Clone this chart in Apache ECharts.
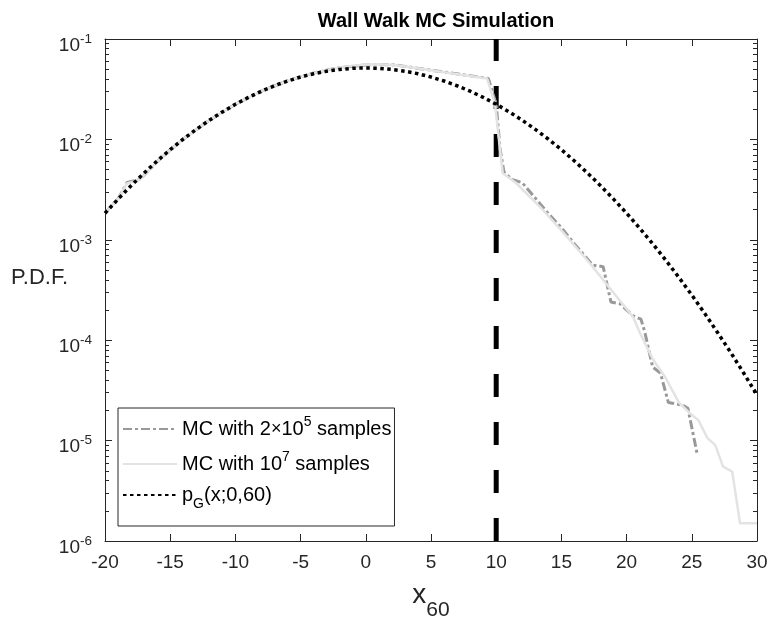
<!DOCTYPE html>
<html><head><meta charset="utf-8">
<script src="https://cdn.jsdelivr.net/npm/echarts@6/dist/echarts.min.js"></script>
<style>html,body{margin:0;padding:0;background:#fff}#c{width:769px;height:622px}</style>
</head><body><div id="c"></div>
<script>
// ---- data ----
const gaussX = [-20,-19,-18,-17,-16,-15,-14,-13,-12,-11,-10,-9,-8,-7,-6,-5,-4,-3,-2,-1,0,1,2,3,4,5,6,7,8,9,10,11,12,13,14,15,16,17,18,19,20,21,22,23,24,25,26,27,28,29,30];
const gaussY = [0.00184,0.00254,0.00346,0.00463,0.00610,0.00790,0.01006,0.01259,0.01551,0.01879,0.02238,0.02622,0.03021,0.03424,0.03815,0.04181,0.04507,0.04778,0.04981,0.05107,0.05150,0.05107,0.04981,0.04778,0.04507,0.04181,0.03815,0.03424,0.03021,0.02622,0.02238,0.01879,0.01551,0.01259,0.01006,0.00790,0.00610,0.00463,0.00346,0.00254,0.00184,0.001306,0.000913,0.000627,0.000424,0.000282,0.000184,0.000118,0.0000749,0.0000466,0.0000285];

const mcSmallX = [-20,-19,-18.3,-17.3,-16,-15,-14,-12,-10,-8,-6,-4,-3,-2,-1,0,1,2.2,9.4,10.0,10.3,10.6,11.2,12.0,13,14,15,16,17.4,18.2,18.8,19.5,20.5,21.1,21.4,21.7,22.0,22.6,23.2,24.3,24.7,25.4];
const mcSmallY = [0.00186,0.00256,0.00372,0.00400,0.00600,0.00785,0.01005,0.01550,0.02240,0.03030,0.03830,0.04580,0.04900,0.05200,0.05350,0.05520,0.05580,0.05520,0.04050,0.02240,0.00800,0.00470,0.00400,0.00370,0.00260,0.00182,0.00132,0.00091,0.00056,0.00054,0.00024,0.00023,0.000175,0.000162,0.000120,0.000080,0.000054,0.000047,0.000024,0.0000225,0.000021,0.0000075];

const mcLargeX = [-20,-19,-18.3,-17.3,-16,-15,-14,-12,-10,-8,-6,-4,-3,-2,-1,0,1,2.2,9.3,9.9,10.5,11.5,13.4,15,17.2,18.4,20.5,21.0,22.0,23.0,24.0,24.9,25.5,26.2,26.8,27.4,28.1,28.7,30];
const mcLargeY = [0.00186,0.00256,0.00365,0.00400,0.00600,0.00785,0.01005,0.01550,0.02240,0.03030,0.03830,0.04580,0.04900,0.05200,0.05400,0.05560,0.05600,0.05520,0.04050,0.02280,0.00460,0.00370,0.00210,0.00124,0.00058,0.00037,0.00017,0.00012,0.000065,0.000042,0.000024,0.0000185,0.000016,0.0000106,0.0000090,0.0000055,0.0000049,0.0000015,0.0000015];

const wallX = 10;
const yMin = 1e-6, yMax = 1e-1;
const decades = [-6,-5,-4,-3,-2,-1];
const minorMult = [2,3,4,5,6,7,8,9];

const seriesNames = ['mcSmall','mcLarge','pG'];
const legendLabels = {
  mcSmall: '{t|MC with 2}{m|×}{t|10}{sup|5}{t| samples}',
  mcLarge: '{t|MC with 10}{sup|7}{t| samples}',
  pG: '{t|p}{sub|G}{t|(x;0,60)}'
};
// ----------------------------------------------

const zip = (xs, ys) => xs.map((x, i) => [x, ys[i]]);
const minorLog = [];
decades.slice(0, -1).forEach(d => minorMult.forEach(m => minorLog.push(Math.log10(m) + d)));

const FONT = '"Liberation Sans", Arial, Helvetica, sans-serif';
const AX = '#262626';

const chart = echarts.init(document.getElementById('c'), null, {renderer: 'canvas'});
const tickCommon = {show: true, inside: true, lineStyle: {color: AX, width: 1}};
const lineCommon = {show: true, onZero: false, lineStyle: {color: AX, width: 1}};

chart.setOption({
  backgroundColor: '#fff',
  animation: false,
  title: {
    text: 'Wall Walk MC Simulation',
    left: 431, top: 6, textAlign: 'center',
    textStyle: {fontFamily: FONT, fontSize: 20, fontWeight: 'bold', color: '#000'}
  },
  grid: {left: 105, right: 12, top: 39, bottom: 81, containLabel: false, outerBoundsMode: 'none'},
  legend: {
    data: seriesNames,
    orient: 'vertical',
    left: 118, top: 408,
    backgroundColor: '#fff',
    borderColor: AX, borderWidth: 1, borderRadius: 0,
    padding: [7, 3, 15, 4],
    itemWidth: 54, itemHeight: 14, itemGap: 11,
    itemStyle: {opacity: 0},
    formatter: n => legendLabels[n],
    textStyle: {
      fontFamily: FONT, fontSize: 20, color: '#000',
      rich: {
        t: {fontFamily: FONT, fontSize: 20, color: '#000', verticalAlign: 'middle', lineHeight: 28},
        m: {fontFamily: FONT, fontSize: 18, color: '#000', verticalAlign: 'middle', lineHeight: 28},
        sup: {fontFamily: FONT, fontSize: 14, color: '#000', verticalAlign: 'top', lineHeight: 28},
        sub: {fontFamily: FONT, fontSize: 14, color: '#000', verticalAlign: 'bottom', lineHeight: 32}
      }
    }
  },
  xAxis: [
    {
      type: 'value', min: -20, max: 30, interval: 5, position: 'bottom',
      axisLine: lineCommon,
      axisTick: Object.assign({length: 7}, tickCommon),
      splitLine: {show: false},
      axisLabel: {fontFamily: FONT, fontSize: 19, color: AX, margin: 12},
      name: '{a|x}{b|60}', nameLocation: 'middle', nameGap: 28, nameMoveOverlap: false,
      nameTextStyle: {
        rich: {
          a: {fontFamily: FONT, fontSize: 28, color: AX, verticalAlign: 'middle', lineHeight: 52},
          b: {fontFamily: FONT, fontSize: 21, color: AX, verticalAlign: 'bottom', lineHeight: 52}
        }
      }
    },
    {
      type: 'value', min: -20, max: 30, interval: 5, position: 'top',
      axisLine: lineCommon,
      axisTick: Object.assign({length: 7}, tickCommon),
      axisLabel: {show: false}, splitLine: {show: false}
    }
  ],
  yAxis: [
    {
      type: 'log', logBase: 10, min: yMin, max: yMax, position: 'left',
      axisLine: lineCommon,
      axisTick: Object.assign({length: 7}, tickCommon),
      splitLine: {show: false},
      axisLabel: {
        margin: 13,
        formatter: v => '{b|10}{s|' + Math.round(Math.log10(v)) + '}',
        rich: {
          b: {fontFamily: FONT, fontSize: 19, color: AX, verticalAlign: 'bottom', lineHeight: 32},
          s: {fontFamily: FONT, fontSize: 13.5, color: AX, verticalAlign: 'middle', lineHeight: 32}
        }
      },
      name: 'P.D.F.', nameLocation: 'middle', nameRotate: 0, nameGap: 37, nameMoveOverlap: false,
      nameTextStyle: {fontFamily: FONT, fontSize: 22, color: AX, verticalAlign: 'bottom', lineHeight: 24}
    },
    {
      type: 'value', min: -6, max: -1, position: 'left',
      axisLine: {show: false, onZero: false},
      axisTick: Object.assign({length: 4, customValues: minorLog}, tickCommon),
      axisLabel: {show: false}, splitLine: {show: false}
    },
    {
      type: 'value', min: -6, max: -1, interval: 1, position: 'right',
      axisLine: lineCommon,
      axisTick: Object.assign({length: 7}, tickCommon),
      axisLabel: {show: false}, splitLine: {show: false}
    },
    {
      type: 'value', min: -6, max: -1, position: 'right',
      axisLine: {show: false, onZero: false},
      axisTick: Object.assign({length: 4, customValues: minorLog}, tickCommon),
      axisLabel: {show: false}, splitLine: {show: false}
    }
  ],
  series: [
    {
      name: 'wall', type: 'line', xAxisIndex: 0, yAxisIndex: 0,
      data: [[wallX, yMin], [wallX, yMax]],
      symbol: 'none', silent: true,
      lineStyle: {color: '#000', width: 5, type: [23, 25]}
    },
    {
      name: 'mcSmall', type: 'line', xAxisIndex: 0, yAxisIndex: 0,
      data: zip(mcSmallX, mcSmallY), symbol: 'none',
      itemStyle: {color: '#999999'},
      lineStyle: {color: '#999999', width: 3, type: [9, 3, 3, 3]}
    },
    {
      name: 'mcLarge', type: 'line', xAxisIndex: 0, yAxisIndex: 0,
      data: zip(mcLargeX, mcLargeY), symbol: 'none',
      itemStyle: {color: '#e3e3e3'},
      lineStyle: {color: '#e3e3e3', width: 2.5}
    },
    {
      name: 'pG', type: 'line', xAxisIndex: 0, yAxisIndex: 0,
      data: zip(gaussX, gaussY), symbol: 'none',
      itemStyle: {color: '#000'},
      lineStyle: {color: '#000', width: 3.5, type: [3.5, 3.5]}
    }
  ]
});
</script>
</body></html>
